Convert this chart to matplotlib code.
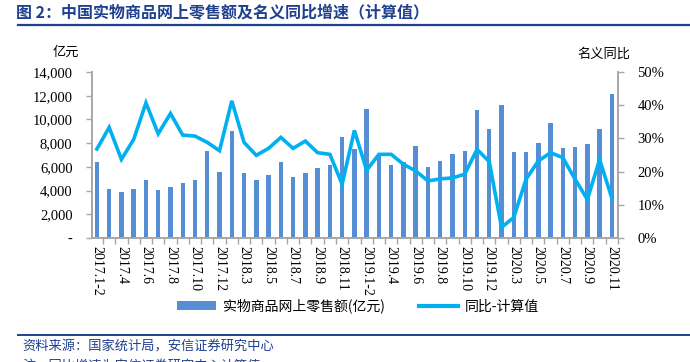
import matplotlib
matplotlib.use("Agg")
import matplotlib.pyplot as plt
from matplotlib.lines import Line2D
from matplotlib.patches import Patch

months = ["2017.1-2", "2017.3", "2017.4", "2017.5", "2017.6", "2017.7", "2017.8", "2017.9", "2017.10", "2017.11", "2017.12",
          "2018.1-2", "2018.3", "2018.4", "2018.5", "2018.6", "2018.7", "2018.8", "2018.9", "2018.10", "2018.11", "2018.12",
          "2019.1-2", "2019.3", "2019.4", "2019.5", "2019.6", "2019.7", "2019.8", "2019.9", "2019.10", "2019.11", "2019.12",
          "2020.1-2", "2020.3", "2020.4", "2020.5", "2020.6", "2020.7", "2020.8", "2020.9", "2020.10", "2020.11"]
sales = [6400, 4150, 3870, 4150, 4870, 4060, 4280, 4680, 4870, 7310, 5570,
         9020, 5490, 4870, 5290, 6410, 5180, 5490, 5880, 6190, 8560, 7480,
         10920, 7000, 6130, 6440, 7760, 6020, 6530, 7060, 7340, 10810, 9190,
         11200, 7280, 7280, 7980, 9720, 7560, 7670, 7900, 9220, 12180]
yoy = [26.8, 33.3, 23.7, 29.7, 40.7, 31.4, 37.5, 31.0, 30.7, 28.8, 26.3,
       41.3, 28.8, 24.9, 27.0, 30.3, 27.0, 29.2, 25.7, 25.2, 16.2, 32.4,
       20.4, 25.2, 25.2, 22.2, 20.2, 17.2, 17.8, 18.1, 19.2, 26.7, 23.0,
       3.2, 6.2, 17.7, 23.2, 25.7, 24.2, 17.7, 11.6, 23.6, 12.0]
left_ticks = [0, 2000, 4000, 6000, 8000, 10000, 12000, 14000]
left_labels = ["-", "2,000", "4,000", "6,000", "8,000", "10,000", "12,000", "14,000"]
right_ticks = [0, 10, 20, 30, 40, 50]
right_labels = ["0%", "10%", "20%", "30%", "40%", "50%"]

title = "图 2：中国实物商品网上零售额及名义同比增速（计算值）"
bar_name = "实物商品网上零售额(亿元)"
line_name = "同比-计算值"
source = "资料来源：国家统计局，安信证券研究中心"
note = "注：同比增速为安信证券研究中心计算值"

CJK = ["Noto Sans CJK SC", "DejaVu Sans"]
SERIF = "Liberation Serif"
bar_color = "#558ED5"
line_color = "#00B0F0"
dark_blue = "#1F3F8F"
gray = "#A6A6A6"

W, H = 690, 362
fig = plt.figure(figsize=(6.9, 3.62), dpi=100)

def fx(px):
    return px / W

def fy(py):
    return 1 - py / H

ax = fig.add_axes([fx(92), fy(238), fx(618) - fx(92), fy(72) - fy(238)])
ax2 = ax.twinx()

x = list(range(len(months)))
ax.bar(x, sales, width=0.36, color=bar_color, zorder=2)
ax2.plot(x, yoy, color=line_color, lw=2.6, solid_joinstyle="miter", zorder=3)

ax.set_xlim(-0.4, len(months) - 0.55)
ax.set_ylim(0, 14000)
ax2.set_ylim(0, 50)

ax.set_yticks(left_ticks)
ax.set_yticklabels(left_labels, fontfamily=SERIF, fontsize=10.5)
ax2.set_yticks(right_ticks)
ax2.set_yticklabels(right_labels, fontfamily=SERIF, fontsize=10.5)

ax.set_xticks(x[::2])
ax.set_xticklabels(months[::2], rotation=-90, fontfamily=SERIF, fontsize=10, va="top", ha="center")
ax.set_xticks([i + 0.5 for i in x], minor=True)
ax.tick_params(axis="x", which="major", length=0, pad=6)
ax.tick_params(axis="x", which="minor", length=4, color=gray, width=1)
ax.tick_params(axis="y", length=4, color=gray, width=1, pad=10)
ax2.tick_params(axis="y", length=4, color=gray, width=1, pad=10)

for a in (ax, ax2):
    a.spines["top"].set_visible(False)
    for s in ("left", "right", "bottom"):
        a.spines[s].set_color(gray)
        a.spines[s].set_linewidth(1.2)
ax.set_zorder(1)
ax2.set_zorder(2)
ax2.patch.set_visible(False)

# axis unit labels
fig.text(fx(66), fy(52), "亿元", family=CJK, fontsize=9.5, ha="center", va="center")
fig.text(fx(604), fy(54), "名义同比", family=CJK, fontsize=9.5, ha="center", va="center")

# title and rules
fig.text(fx(16), fy(13), title, family=CJK, fontsize=11.5, fontweight="bold", color=dark_blue, ha="left", va="center")
fig.add_artist(Line2D([fx(18), 1.0], [fy(25), fy(25)], color=dark_blue, lw=1.6))
fig.add_artist(Line2D([fx(18), 1.0], [fy(335), fy(335)], color=dark_blue, lw=1.4))
fig.text(fx(22), fy(347), source, family=CJK, fontsize=9.5, style="italic", color=dark_blue, ha="left", va="center")
fig.text(fx(22), fy(360), note, family=CJK, fontsize=9.5, style="italic", color=dark_blue, ha="left", va="top")

# legend
handles = [Patch(facecolor=bar_color, edgecolor="none"), Line2D([], [], color=line_color, lw=3)]
leg = fig.legend(handles, [bar_name, line_name], loc="center", bbox_to_anchor=(fx(358), fy(306)),
                 ncol=2, frameon=False, prop={"family": CJK, "size": 10},
                 handlelength=2.8, handleheight=0.7, columnspacing=2.5, handletextpad=0.5)

fig.savefig("out.png", dpi=100)
